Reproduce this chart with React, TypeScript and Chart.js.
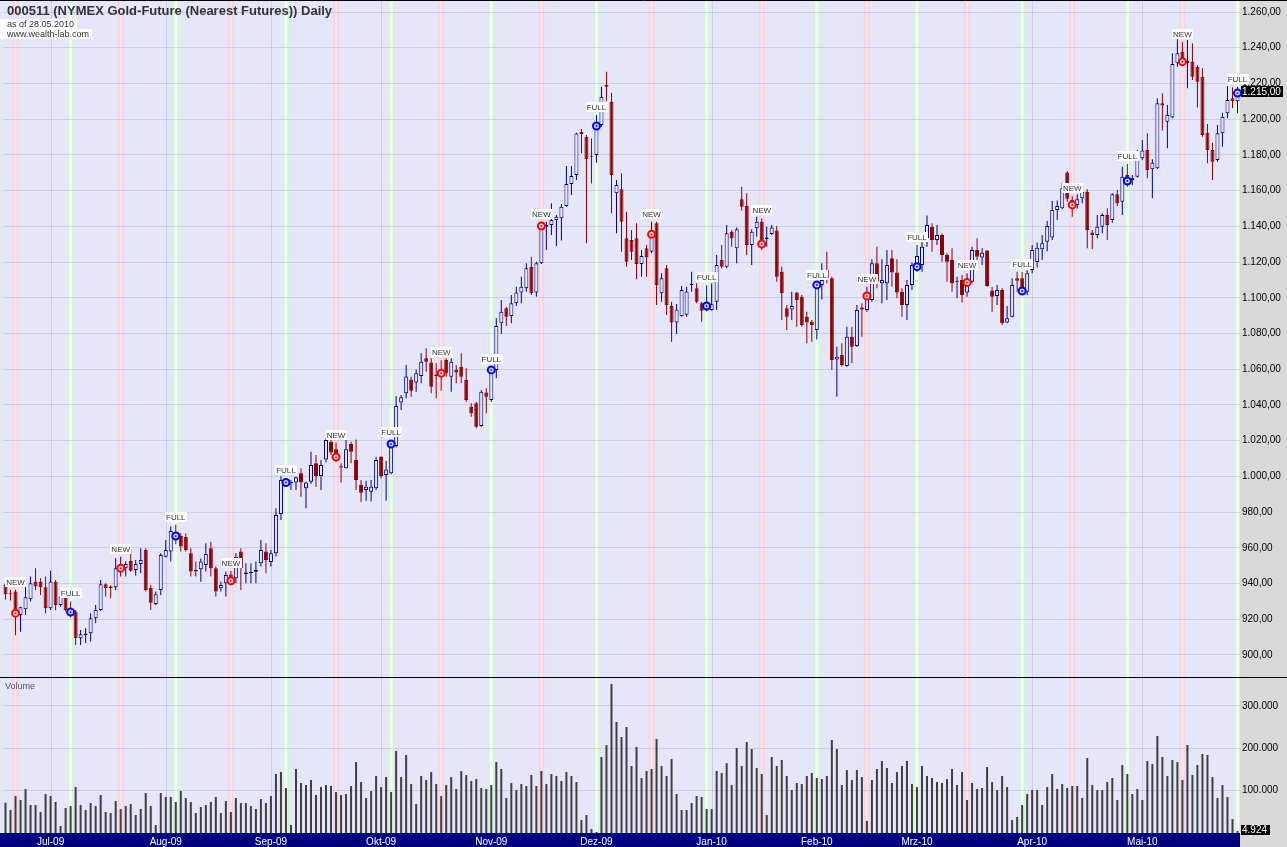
import React, { useEffect, useRef } from "react";
import { Chart, registerables } from "chart.js";

Chart.register(...registerables);

// ---------- data ----------
const monthNames = ["Jun-09", "Jul-09", "Aug-09", "Sep-09", "Okt-09", "Nov-09", "Dez-09", "Jan-10", "Feb-10", "Mrz-10", "Apr-10", "Mai-10"];
const monthBarCounts = [9, 23, 21, 22, 22, 21, 23, 21, 20, 23, 22, 20];

const openPrices = [
  939.6, 934.5, 935.5, 922.4, 925.6, 931.2, 941, 941, 937.9, 926.1,
  941, 928, 932.1, 925, 924.3, 909.4, 911, 912.2, 920.6, 925.2,
  939.6, 938.3, 937.9, 948, 948.5, 952.6, 947.6, 951, 958.8, 937.7,
  928.6, 936.4, 955, 957.9, 968, 966.6, 966, 957, 947.6, 948,
  950.4, 959.7, 948.5, 937.3, 940.1, 945, 943, 957.9, 945.4, 945.8,
  946.6, 951.3, 957.9, 952, 957, 979, 995.5, 996, 996.5, 1001.7,
  993.3, 997, 1007.3, 1000.2, 1009.5, 1019.4, 1015.2, 1005.6, 1004.5, 1018.1,
  1009.2, 995.2, 992.4, 991.4, 993.3, 1011, 1000.8, 1001.7, 1017, 1041.3,
  1046.5, 1054.3, 1052.5, 1056.2, 1066.1, 1063.7, 1057.1, 1059, 1065.2, 1055.8,
  1059.6, 1061.4, 1054, 1039, 1040.9, 1028.2, 1046.9, 1042.8, 1059.6, 1085.7,
  1094.1, 1089.8, 1096.9, 1102.9, 1105.3, 1117.4, 1102.9, 1119.3, 1139.8, 1140.7,
  1143.5, 1144.5, 1151.4, 1163.7, 1168.7, 1193, 1190.2, 1179.4, 1180, 1196.7,
  1219.1, 1209.8, 1158.5, 1160.7, 1133.3, 1132.4, 1133.3, 1118.9, 1127.7, 1125.8,
  1141.7, 1102.5, 1116.5, 1095.4, 1086.1, 1089.8, 1090.5, 1107.2, 1105.3, 1096.9,
  1093, 1093.2, 1097.8, 1121.2, 1117.4, 1137, 1127.7, 1155.1, 1151.4, 1129.5,
  1138.9, 1142.6, 1132.9, 1135.7, 1137.6, 1114.6, 1094.1, 1093.5, 1102.9, 1100.6,
  1089.4, 1086.6, 1082, 1107.2, 1115.6, 1110.9, 1065.5, 1068, 1061.8, 1078.2,
  1073, 1094.5, 1093.2, 1098.8, 1119.3, 1108.1, 1108.1, 1122.1, 1114.1, 1103.4,
  1095.9, 1107.2, 1117.4, 1118.4, 1133.3, 1139.8, 1132.3, 1135.1, 1123.9, 1121.2,
  1108.9, 1109.9, 1103, 1109, 1126.7, 1122.6, 1126.4, 1104, 1101, 1104.4,
  1086.1, 1089.4, 1110.9, 1110.9, 1103.4, 1115.5, 1120, 1127.1, 1131.4, 1133.8,
  1149.2, 1150.1, 1170.1, 1154.8, 1152, 1155.7, 1159.4, 1136.6, 1135.1, 1139.8,
  1146.3, 1143.5, 1157.9, 1153.8, 1168.7, 1166, 1167.8, 1178.1, 1182.7, 1171.9,
  1172.5, 1208.9, 1198.6, 1201, 1231.3, 1237.8, 1231.5, 1232.2, 1229.4, 1223.8,
  1192.4, 1182.7, 1177.1, 1192.1, 1203.3, 1211.7, 1210,
];

const highPrices = [
  942, 936.5, 936.5, 927, 937.9, 943.9, 948.5, 942.9, 943.9, 947.2,
  942, 934.5, 933.6, 930, 925.2, 914, 915, 923.4, 928, 942,
  940.1, 939, 954.1, 955, 952.3, 959.2, 953.2, 959.7, 959.7, 939.2,
  935.5, 957, 964.4, 971.9, 973, 968.1, 968, 959.7, 952.3, 954,
  962.5, 963.4, 949.5, 941.1, 946.7, 947, 957, 959.7, 951.3, 951.3,
  952.3, 964.4, 962.5, 958.8, 982.1, 1000, 999, 998, 999.8, 1004.5,
  997, 1013.8, 1012, 1009.2, 1021.3, 1021.3, 1018.9, 1007.3, 1021.3, 1019.4,
  1020.7, 998, 997.6, 998, 1011, 1011.4, 1008.6, 1020.4, 1045, 1045.6,
  1062.4, 1055.8, 1059.9, 1068.9, 1071.7, 1066.1, 1063.3, 1065, 1066.1, 1066.1,
  1062.4, 1068.9, 1060.5, 1040.9, 1041.8, 1048.4, 1049.3, 1061.4, 1088.5, 1098.8,
  1095, 1101.6, 1106.2, 1111.8, 1119.3, 1123, 1120.2, 1142.6, 1142.6, 1152.9,
  1146.3, 1152.5, 1173.8, 1173.8, 1192.4, 1194.5, 1191.1, 1189.2, 1202.3, 1218.2,
  1226.6, 1214.8, 1165.9, 1169.7, 1148.2, 1137.9, 1141.7, 1126.8, 1129.5, 1142.6,
  1142.6, 1113.7, 1118.4, 1097.8, 1096.5, 1106.6, 1106.2, 1114.6, 1108.1, 1097.8,
  1107, 1108, 1124, 1129.5, 1140.7, 1137.9, 1139.4, 1162.2, 1158.5, 1138.3,
  1145.4, 1144.5, 1139.8, 1140.7, 1140.2, 1117.4, 1095.9, 1103.4, 1103.4, 1101.6,
  1092.2, 1087.6, 1108, 1119.3, 1125.8, 1111.8, 1072.6, 1074.5, 1083.8, 1083.8,
  1096, 1096.9, 1106.2, 1121.5, 1128.6, 1121.5, 1126.7, 1126.7, 1121.5, 1105.3,
  1109.9, 1119.7, 1129.5, 1133.3, 1146, 1141.7, 1140.7, 1136.1, 1124.9, 1127.7,
  1111.8, 1112.7, 1113.7, 1128.6, 1133.3, 1127.7, 1126.7, 1106.2, 1107.2, 1105.3,
  1095.4, 1110.9, 1114.6, 1114.6, 1115.5, 1129.5, 1131, 1135.1, 1143, 1154.2,
  1154.4, 1164.4, 1171, 1157, 1157.9, 1162, 1160.7, 1138, 1146.3, 1147.3,
  1150.1, 1158.5, 1160.3, 1173.4, 1174.9, 1168.7, 1182.7, 1188.3, 1192.1, 1177.5,
  1211.7, 1214.5, 1208, 1236.9, 1244.7, 1243.4, 1244.3, 1242.5, 1230.3, 1228.5,
  1197.3, 1186.8, 1196.7, 1203.6, 1218.6, 1217.8, 1218.2,
];

const lowPrices = [
  931, 930.5, 911, 913, 922.4, 929.9, 936.4, 933.6, 923.4, 925.2,
  925, 927, 924.3, 921, 905.6, 905.6, 906.6, 907.5, 917.8, 924.6,
  932.7, 931.8, 936.4, 944, 943.9, 946.6, 944.3, 945.7, 935.5, 925.2,
  928, 933.6, 954.7, 952.3, 962, 957.9, 957.9, 944, 944, 941,
  946.7, 944, 932.7, 935.5, 932.7, 939, 940.2, 936.4, 940.1, 940.1,
  940.1, 949.5, 945.7, 949.5, 955, 975.6, 994, 992.4, 992.4, 988.6,
  982.1, 995.7, 994, 992.4, 1007.7, 1012, 1008.2, 996.5, 1004.5, 1007.3,
  992.4, 985.5, 986.4, 985.9, 992.4, 998.9, 986.4, 1001, 1016.2, 1037.2,
  1043.7, 1044.6, 1047.4, 1052.1, 1058.6, 1046.5, 1043.7, 1048, 1055.8, 1047.4,
  1052.1, 1052.1, 1041.8, 1033.4, 1026.9, 1027.8, 1035.3, 1041.8, 1054.9, 1079.7,
  1084.2, 1085.7, 1095.4, 1096.9, 1103.4, 1101.6, 1100.6, 1118.9, 1126.7, 1135.1,
  1129, 1132, 1151, 1157.5, 1165.9, 1180.9, 1130.5, 1164, 1175.6, 1195.8,
  1210, 1147.3, 1136.1, 1125.8, 1117.4, 1121.2, 1110.3, 1111.8, 1111.8, 1124.9,
  1096, 1097.8, 1090.4, 1075.4, 1079.7, 1089.4, 1089.4, 1103.4, 1096.9, 1086.6,
  1092.5, 1092.8, 1093.2, 1116.5, 1116.5, 1128.6, 1119.3, 1148.8, 1124, 1118.4,
  1134.2, 1126.8, 1128.6, 1135.1, 1109, 1087.6, 1082, 1087.6, 1083.8, 1083.8,
  1074.5, 1075.4, 1076.7, 1099.1, 1108.1, 1059.6, 1044.6, 1061.4, 1061.4, 1063.3,
  1072.6, 1078.2, 1092.2, 1097.8, 1105.3, 1096.9, 1098.8, 1106.2, 1099.7, 1089.4,
  1087.6, 1104.4, 1114.6, 1114.6, 1128.6, 1125.8, 1129.5, 1120.2, 1109, 1103.4,
  1099.7, 1097.3, 1100.6, 1108.1, 1118.4, 1118.4, 1106.2, 1092.2, 1096, 1084.8,
  1085.7, 1089, 1103.4, 1101.6, 1101.6, 1113.7, 1117, 1121.2, 1126, 1132.3,
  1143.5, 1149.5, 1153.8, 1145.4, 1150, 1152.9, 1127.7, 1127.1, 1133.3, 1136.1,
  1132.3, 1142, 1151.4, 1146.3, 1162.2, 1163.2, 1167.4, 1177.1, 1166.9, 1155.7,
  1172.1, 1193.6, 1183.7, 1200.5, 1229.4, 1230.3, 1217.3, 1221.9, 1206.6, 1190.2,
  1175.3, 1166, 1176.2, 1184.6, 1200.5, 1206.1, 1203.3,
];

const closePrices = [
  934, 934, 923.4, 926.7, 932.3, 940.1, 938.3, 937.9, 926.1, 941.1,
  928, 932.7, 925.2, 924, 909.4, 911.6, 912, 920.6, 925.2, 939.6,
  937.3, 937.5, 948.5, 949, 951, 947.2, 951, 953.2, 936.4, 929.3,
  934, 956, 958.8, 969.4, 966.5, 960.7, 958.8, 946.7, 946.7, 952.3,
  956.6, 948.5, 935.5, 939.2, 944.8, 942, 955, 948.5, 946.2, 946.4,
  947.6, 958.8, 953.2, 957, 978.4, 998, 998, 996.8, 999.5, 996.5,
  996.5, 1006.4, 1000.2, 1006.4, 1020.4, 1013.3, 1012, 1005, 1015.2, 1013.8,
  998, 990.9, 994.2, 994.2, 1009.2, 1000.2, 1003.9, 1017.5, 1039.4, 1044.3,
  1055.9, 1048, 1057.7, 1064.2, 1064.2, 1050.2, 1056.2, 1057, 1057.7, 1064.2,
  1058.1, 1055.8, 1042.8, 1035.3, 1027.8, 1047.4, 1044.6, 1059.6, 1084.2, 1092.2,
  1089.4, 1096.9, 1102.9, 1106.2, 1116.5, 1102.5, 1119.3, 1140.2, 1140.7, 1143.5,
  1145.4, 1151, 1163.7, 1168.2, 1192, 1191.7, 1177.5, 1179, 1196.2, 1212.6,
  1218.2, 1168.7, 1163.1, 1142.6, 1120.2, 1125.8, 1118.9, 1123.4, 1122.7, 1135.5,
  1107.2, 1110.9, 1096, 1086.1, 1093.5, 1104.4, 1103.5, 1107.8, 1097.8, 1092.8,
  1096, 1096.4, 1118.4, 1117.4, 1136.1, 1133.3, 1138.3, 1151, 1129.5, 1137,
  1142.6, 1130.1, 1133.8, 1139.4, 1111.8, 1102.5, 1089.4, 1095.4, 1098.8, 1084.8,
  1086.1, 1084.8, 1107.2, 1110, 1111, 1065.2, 1067, 1062.4, 1078.2, 1072.6,
  1093.2, 1093.5, 1101, 1119.3, 1109, 1110, 1118.4, 1114.1, 1102.9, 1095.9,
  1107.2, 1118.4, 1123.4, 1128.6, 1140.7, 1132.3, 1135.1, 1123.9, 1120.2, 1108.1,
  1109.5, 1101.6, 1108.6, 1126.7, 1123, 1125.2, 1106.6, 1100.6, 1104.4, 1085.7,
  1088.5, 1107.2, 1109.5, 1103.8, 1113.7, 1126.7, 1128, 1130.5, 1140.2, 1149.2,
  1151.4, 1161.3, 1155.4, 1152.9, 1155.1, 1159.4, 1138, 1135.1, 1139.8, 1146.3,
  1140.7, 1157.9, 1152.9, 1167.8, 1166, 1167.2, 1177.1, 1182.4, 1171.5, 1175.6,
  1208.9, 1207.6, 1202.3, 1230.9, 1236.9, 1231.3, 1232.5, 1223.8, 1221, 1191.1,
  1182.7, 1176.2, 1192.1, 1201.4, 1210.7, 1210.2, 1215,
];

const volumes = [
  71500, 54200, 87200, 77800, 103700, 66000, 66000, 49500, 92000, 87200,
  73100, 16500, 58900, 63600, 108400, 66000, 54200, 70700, 63600, 89600,
  49500, 47100, 75400, 56600, 63600, 68300, 42400, 56600, 94300, 63600,
  18800, 94300, 84900, 84900, 73100, 99000, 82500, 73100, 47100, 61300,
  66000, 73100, 84900, 47100, 75400, 49500, 82500, 70700, 70700, 63600,
  56600, 80100, 70700, 87200, 139100, 143800, 106100, 18800, 150900, 117900,
  113200, 125000, 89600, 108400, 113200, 110800, 96700, 89600, 92000, 110800,
  167400, 120200, 82500, 99000, 134400, 108400, 132000, 96700, 193400, 132000,
  183900, 115500, 68300, 134400, 125000, 143800, 115500, 87200, 113200, 132000,
  103700, 146200, 136700, 122600, 127300, 106100, 103700, 113200, 167400, 150900,
  82500, 117900, 101400, 115500, 110800, 136700, 110800, 146200, 115500, 139100,
  134400, 122600, 143800, 134400, 120200, 30600, 42400, 9400, 2300, 179200,
  207500, 351400, 261800, 226400, 250000, 158000, 202800, 129700, 146200, 150900,
  221700, 158000, 134400, 174500, 92000, 54200, 54200, 70700, 87200, 84900,
  56600, 56600, 146200, 141500, 165000, 113200, 200400, 158000, 214600, 198100,
  153300, 139100, 42400, 179200, 158000, 172100, 134400, 101400, 117900, 115500,
  134400, 141500, 129700, 127300, 134400, 219300, 198100, 113200, 148500, 125000,
  148500, 132000, 28300, 125000, 150900, 169800, 153300, 117900, 143800, 158000,
  169800, 115500, 108400, 158000, 134400, 129700, 120200, 117900, 127300, 150900,
  113200, 143800, 77800, 117900, 103700, 106100, 155600, 120200, 101400, 134400,
  108400, 30600, 37700, 66000, 92000, 101400, 101400, 66000, 108400, 139100,
  103700, 115500, 106100, 110800, 110800, 82500, 176800, 113200, 101400, 101400,
  120200, 129700, 77800, 160300, 139100, 92000, 103700, 77800, 169800, 162700,
  228700, 179200, 134400, 172100, 167400, 125000, 207500, 136700, 160300, 186300,
  183900, 132000, 82500, 113200, 84900, 33000, 4924,
];

const newMoonIdx = [2, 23, 45, 66, 87, 107, 129, 151, 172, 192, 213, 235];
const newMoonPrice = [923.4, 948.6, 941.5, 1010.8, 1057.8, 1140.2, 1135.5, 1130.1, 1101, 1108.6, 1152, 1232.2];
const fullMoonIdx = [13, 34, 56, 77, 97, 118, 140, 162, 182, 203, 224, 246];
const fullMoonPrice = [924, 966.6, 996.6, 1018.1, 1059.6, 1196.2, 1095.4, 1107.2, 1117.4, 1103.8, 1165.4, 1214.6];

const PRICE_MIN = 887.67;
const PRICE_MAX = 1266.16;
const PRICE_STEP = 20;
const VOL_MAX = 365600;
const volTickValues = [100000, 200000, 300000];

// ---------- derived ----------
const categories: string[] = [];
const monthStarts: number[] = [];
const monthLabels: string[] = [];
monthNames.forEach((m, k) => {
  for (let d = 0; d < monthBarCounts[k]; d++) {
    if (d === 0 && k > 0) {
      monthStarts.push(categories.length);
      monthLabels.push(m);
    }
    categories.push(m + " #" + (d + 1));
  }
});

// ---------- styles ----------
const LAVENDER = "#E6E6FA";
const AXIS_GREY = "#D9D9D9";
const NAVY_BAR = "#000080";
const UP = "#000080";
const DOWN = "#8B0000";
const GRID = "rgba(150,150,175,0.30)";
const TICK_FONT = '"Liberation Sans Narrow", "Liberation Sans", Arial, sans-serif';
const SANS = '"Liberation Sans", Arial, sans-serif';
const AXIS_W = 47;

function fmtDE(v: number, dec: number): string {
  const s = Math.abs(v).toFixed(dec);
  const parts = s.split(".");
  const g = parts[0].replace(/\B(?=(\d{3})+(?!\d))/g, ".");
  return (v < 0 ? "-" : "") + (parts[1] ? g + "," + parts[1] : g);
}

function drawBandsAndGrid(chart: any, bottom: number) {
  const ctx = chart.ctx;
  const xs = chart.scales.x;
  const right = chart.chartArea.right;
  ctx.save();
  ctx.fillStyle = LAVENDER;
  ctx.fillRect(0, 0, right, bottom);
  ctx.strokeStyle = GRID;
  ctx.lineWidth = 1;
  monthStarts.forEach((i) => {
    const x = Math.round(xs.getPixelForValue(i)) + 0.5;
    ctx.beginPath();
    ctx.moveTo(x, 0);
    ctx.lineTo(x, bottom);
    ctx.stroke();
  });
  newMoonIdx.forEach((i) => {
    const x = xs.getPixelForValue(i);
    ctx.fillStyle = "#F6D6E2";
    ctx.fillRect(x - 3, 0, 6, bottom);
    ctx.fillStyle = "#FBE4EC";
    ctx.fillRect(x - 1, 0, 2, bottom);
  });
  fullMoonIdx.forEach((i) => {
    const x = xs.getPixelForValue(i);
    ctx.fillStyle = "#D6F3D8";
    ctx.fillRect(x - 3, 0, 6, bottom);
    ctx.fillStyle = "#EFFDEF";
    ctx.fillRect(x - 1.5, 0, 3, bottom);
  });
  ctx.fillStyle = AXIS_GREY;
  ctx.fillRect(right, 0, chart.width - right, chart.height);
  ctx.restore();
}

const priceBgPlugin = {
  id: "priceBg",
  beforeDraw(chart: any) {
    drawBandsAndGrid(chart, chart.height);
  },
  afterDraw(chart: any) {
    const ctx = chart.ctx;
    const xs = chart.scales.x;
    const ys = chart.scales.y;
    ctx.save();
    const drawMarker = (idx: number, price: number, label: string, color: string, inner: string) => {
      const x = xs.getPixelForValue(idx);
      const yHigh = ys.getPixelForValue(highPrices[idx]);
      ctx.font = "8px " + SANS;
      const w = ctx.measureText(label).width;
      const boxB = yHigh - 3;
      ctx.fillStyle = "#FFFFFF";
      ctx.fillRect(Math.round(x - w / 2 - 1), Math.round(boxB - 10), Math.ceil(w + 2), 10);
      ctx.fillStyle = "#333333";
      ctx.textAlign = "center";
      ctx.textBaseline = "alphabetic";
      ctx.fillText(label, x, boxB - 2);
      const y = ys.getPixelForValue(price);
      ctx.beginPath();
      ctx.arc(x, y, 3.5, 0, Math.PI * 2);
      ctx.fillStyle = inner;
      ctx.fill();
      ctx.lineWidth = 2;
      ctx.strokeStyle = color;
      ctx.stroke();
      ctx.beginPath();
      ctx.arc(x, y, 0.9, 0, Math.PI * 2);
      ctx.fillStyle = color;
      ctx.fill();
    };
    newMoonIdx.forEach((idx, k) => drawMarker(idx, newMoonPrice[k], "NEW", "#FF0000", "#FFD0D0"));
    fullMoonIdx.forEach((idx, k) => drawMarker(idx, fullMoonPrice[k], "FULL", "#0000FF", "#D0D0FF"));

    const last = closePrices[closePrices.length - 1];
    const ly = ys.getPixelForValue(last);
    const right = chart.chartArea.right;
    ctx.font = "10px " + TICK_FONT;
    const txt = fmtDE(last, 2);
    const tw = ctx.measureText(txt).width;
    ctx.fillStyle = "#000000";
    ctx.fillRect(right + 1, Math.round(ly - 6), Math.ceil(tw + 3), 11);
    ctx.fillStyle = "#FFFFFF";
    ctx.textAlign = "left";
    ctx.textBaseline = "middle";
    ctx.fillText(txt, right + 2, ly);

    ctx.strokeStyle = "#000000";
    ctx.lineWidth = 1;
    ctx.beginPath();
    ctx.moveTo(0, 0.5);
    ctx.lineTo(chart.width, 0.5);
    ctx.moveTo(0, chart.height - 0.5);
    ctx.lineTo(chart.width, chart.height - 0.5);
    ctx.stroke();
    ctx.restore();
  },
};

const volBgPlugin = {
  id: "volBg",
  beforeDraw(chart: any) {
    const bottom = chart.chartArea.bottom;
    drawBandsAndGrid(chart, bottom);
    const ctx = chart.ctx;
    ctx.save();
    ctx.fillStyle = NAVY_BAR;
    ctx.fillRect(0, bottom, chart.chartArea.right, chart.height - bottom);
    ctx.restore();
  },
  afterDraw(chart: any) {
    const ctx = chart.ctx;
    const ys = chart.scales.y;
    const right = chart.chartArea.right;
    const last = volumes[volumes.length - 1];
    const y = ys.getPixelForValue(last) - 1;
    ctx.save();
    ctx.font = "10px " + TICK_FONT;
    const txt = fmtDE(last, 0);
    const tw = ctx.measureText(txt).width;
    ctx.fillStyle = "#000000";
    ctx.fillRect(right + 1, Math.round(y - 5), Math.ceil(tw + 3), 10);
    ctx.fillStyle = "#FFFFFF";
    ctx.textAlign = "left";
    ctx.textBaseline = "middle";
    ctx.fillText(txt, right + 2, y);
    ctx.restore();
  },
};

export default function App() {
  const priceRef = useRef<HTMLCanvasElement>(null);
  const volRef = useRef<HTMLCanvasElement>(null);

  useEffect(() => {
    const isUp = closePrices.map((c, i) => c >= openPrices[i]);
    const wickData = lowPrices.map((l, i) => [l, highPrices[i]]);
    const bodyData = openPrices.map((o, i) => [o, closePrices[i]]);

    const priceChart = new Chart(priceRef.current as HTMLCanvasElement, {
      type: "bar",
      data: {
        labels: categories,
        datasets: [
          {
            label: "Wick",
            data: wickData as any,
            backgroundColor: isUp.map((u) => (u ? UP : DOWN)),
            borderWidth: 0,
            barThickness: 1,
            grouped: false,
            order: 2,
            inflateAmount: 0,
          } as any,
          {
            label: "Body",
            data: bodyData as any,
            backgroundColor: isUp.map((u) => (u ? LAVENDER : DOWN)),
            borderColor: isUp.map((u) => (u ? UP : DOWN)),
            borderWidth: 1,
            borderSkipped: false,
            barThickness: 4,
            grouped: false,
            order: 1,
            inflateAmount: 0,
          } as any,
        ],
      },
      options: {
        responsive: false,
        animation: false,
        events: [],
        layout: { padding: { left: 3, right: 0, top: 1, bottom: 1 } },
        plugins: { legend: { display: false }, tooltip: { enabled: false } },
        scales: {
          x: { type: "category", display: false, offset: true },
          y: {
            position: "right",
            min: PRICE_MIN,
            max: PRICE_MAX,
            border: { display: false },
            grid: { color: GRID, drawTicks: false },
            ticks: {
              stepSize: PRICE_STEP,
              includeBounds: false,
              padding: 2,
              color: "#000000",
              font: { family: TICK_FONT, size: 10 },
              callback: (v: any) => fmtDE(Number(v), 2),
            },
            afterFit: (s: any) => {
              s.width = AXIS_W;
              s.paddingTop = 0;
              s.paddingBottom = 0;
            },
          } as any,
        },
      },
      plugins: [priceBgPlugin],
    });

    const volChart = new Chart(volRef.current as HTMLCanvasElement, {
      type: "bar",
      data: {
        labels: categories,
        datasets: [
          {
            label: "Volume",
            data: volumes,
            backgroundColor: "#3F3F3F",
            borderWidth: 0,
            barThickness: 2,
            inflateAmount: 0,
          } as any,
        ],
      },
      options: {
        responsive: false,
        animation: false,
        events: [],
        layout: { padding: { left: 3, right: 0, top: 0, bottom: 0 } },
        plugins: { legend: { display: false }, tooltip: { enabled: false } },
        scales: {
          x: {
            type: "category",
            offset: true,
            border: { display: false },
            grid: { display: false },
            ticks: {
              autoSkip: false,
              maxRotation: 0,
              minRotation: 0,
              padding: -5,
              color: "#FFFFFF",
              font: { family: SANS, size: 10 },
              callback: (_v: any, index: number) => {
                const k = monthStarts.indexOf(index);
                return k >= 0 ? monthLabels[k] : "";
              },
            },
            afterFit: (s: any) => {
              s.height = 14;
              s.paddingLeft = 0;
              s.paddingRight = 0;
            },
          } as any,
          y: {
            position: "right",
            min: 0,
            max: VOL_MAX,
            border: { display: false },
            grid: { drawTicks: false, color: GRID },
            afterBuildTicks: (s: any) => {
              s.ticks = volTickValues.map((v) => ({ value: v }));
            },
            ticks: {
              padding: 2,
              color: "#000000",
              font: { family: TICK_FONT, size: 10 },
              callback: (v: any) => fmtDE(Number(v), 0),
            },
            afterFit: (s: any) => {
              s.width = AXIS_W;
              s.paddingTop = 0;
              s.paddingBottom = 0;
            },
          } as any,
        },
      },
      plugins: [volBgPlugin],
    });

    return () => {
      priceChart.destroy();
      volChart.destroy();
    };
  }, []);

  const lineBox: React.CSSProperties = {
    position: "absolute",
    left: 0,
    height: 10,
    paddingLeft: 7,
    paddingRight: 3,
    background: "#FFFFFF",
    font: "9px " + SANS,
    lineHeight: "10px",
    color: "#333333",
    whiteSpace: "nowrap",
  };

  return (
    <div
      style={{
        position: "absolute",
        left: 0,
        top: 0,
        width: 1287,
        height: 847,
        overflow: "hidden",
        background: LAVENDER,
      }}
    >
      <canvas ref={priceRef} width={1287} height={678} style={{ position: "absolute", left: 0, top: 0 }} />
      <canvas ref={volRef} width={1287} height={169} style={{ position: "absolute", left: 0, top: 678 }} />
      <div
        style={{
          position: "absolute",
          left: 7,
          top: 3,
          font: "bold 13px " + SANS,
          lineHeight: "15px",
          color: "#333333",
          whiteSpace: "nowrap",
        }}
      >
        000511 (NYMEX Gold-Future (Nearest Futures)) Daily
      </div>
      <div style={{ ...lineBox, top: 19 }}>as of 28.05.2010</div>
      <div style={{ ...lineBox, top: 29 }}>www.wealth-lab.com</div>
      <div
        style={{
          position: "absolute",
          left: 5,
          top: 681,
          font: "9px " + SANS,
          color: "#555555",
          whiteSpace: "nowrap",
        }}
      >
        Volume
      </div>
    </div>
  );
}
